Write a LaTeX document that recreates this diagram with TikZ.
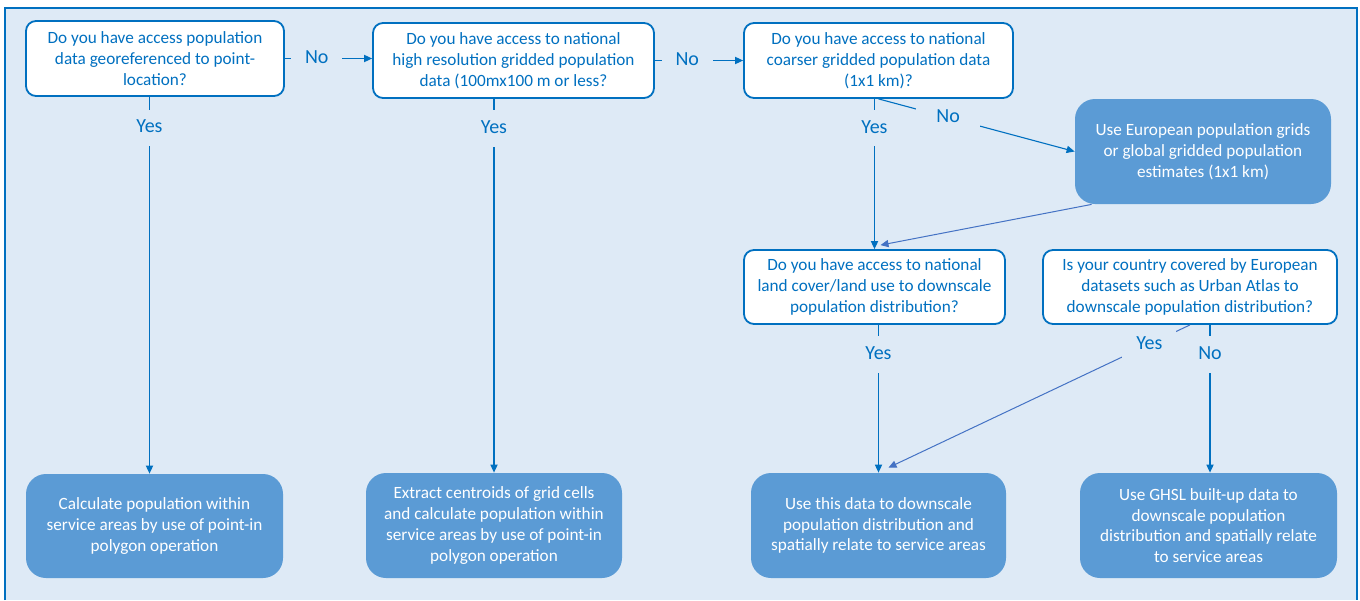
\documentclass[tikz,border=0pt]{standalone}
\usepackage{fontspec}
\setmainfont{Carlito}
\usetikzlibrary{arrows.meta,calc}
\definecolor{bgblue}{HTML}{DEEAF6}
\definecolor{dblue}{HTML}{0070C0}
\definecolor{fblue}{HTML}{5B9BD5}
\definecolor{lblue}{HTML}{4472C4}
\begin{document}
\begin{tikzpicture}[x=0.5pt,y=-0.5pt,
  qbox/.style={draw=dblue, line width=0.9pt, fill=white, rounded corners=5pt, align=center, text=dblue,
    font=\fontsize{8.6}{10.4}\selectfont, inner sep=0pt},
  abox/.style={fill=fblue, rounded corners=10pt, align=center, text=white,
    font=\fontsize{8.6}{10.4}\selectfont, inner sep=0pt},
  conn/.style={draw=dblue, line width=0.55pt, -{Triangle[length=4pt,width=3.6pt]}},
  lconn/.style={draw=lblue, line width=0.5pt, -{Triangle[length=4pt,width=3.6pt]}},
  lab/.style={fill=bgblue, text=dblue, font=\fontsize{10}{12}\selectfont, inner xsep=7pt, inner ysep=4.5pt,
    text height=7.2pt, text depth=2pt},
]
\useasboundingbox (0,0) rectangle (1360,600);
\fill[bgblue] (5,8) rectangle (1357,600);
\draw[dblue, line width=0.8pt] (5,600) -- (5,8) -- (1357,8) -- (1357,600);

% questions
\node[qbox, minimum width=129pt, minimum height=37.5pt] (q1) at (155,58.5)
  {Do you have access population\\data georeferenced to point-\\location?};
\node[qbox, minimum width=140.5pt, minimum height=37.5pt] (q2) at (513.5,60.5)
  {Do you have access to national\\high resolution gridded population\\data (100mx100 m or less?};
\node[qbox, minimum width=134.5pt, minimum height=37.5pt] (q3) at (878.5,60.5)
  {Do you have access to national\\coarser gridded population data\\(1x1 km)?};
\node[qbox, minimum width=130.5pt, minimum height=37pt] (q4) at (874.5,287)
  {Do you have access to national\\land cover/land use to downscale\\population distribution?};
\node[qbox, minimum width=147pt, minimum height=37pt] (q5) at (1190,287)
  {Is your country covered by European\\datasets such as Urban Atlas to\\downscale population distribution?};

% actions
\node[abox, minimum width=128pt, minimum height=52.5pt] (e1) at (1203,151.5)
  {Use European population grids\\or global gridded population\\estimates (1x1 km)};
\node[abox, minimum width=128.5pt, minimum height=52pt] (r1) at (154.5,526)
  {Calculate population within\\service areas by use of point-in\\polygon operation};
\node[abox, minimum width=128pt, minimum height=52.5pt] (r2) at (494,525.5)
  {Extract centroids of grid cells\\and calculate population within\\service areas by use of point-in\\polygon operation};
\node[abox, minimum width=127.5pt, minimum height=52.5pt] (r3) at (878.5,525.5)
  {Use this data to downscale\\population distribution and\\spatially relate to service areas};
\node[abox, minimum width=128.5pt, minimum height=52.5pt] (r4) at (1208.5,525.5)
  {Use GHSL built-up data to\\downscale population\\distribution and spatially relate\\to service areas};

% connectors
\draw[conn] (q1.east) -- node[lab, pos=0.365] {No} (q1.east -| q2.west);
\draw[conn] (q2.east) -- node[lab, pos=0.367] {No} (q3.west);
\draw[conn] ([xshift=-2.5pt]r1.north |- q1.south) -- node[lab, pos=0.082] {Yes} ([xshift=-2.5pt]r1.north);
\draw[conn] (r2.north |- q2.south) -- node[lab, pos=0.079] {Yes} (r2.north);
\draw[conn] (q4.north |- q3.south) -- node[lab, pos=0.194] {Yes} (q4.north);
\draw[conn] (q3.south) -- node[lab, pos=0.355, inner xsep=10pt] {No} (e1.west);
\draw[lconn] ([xshift=8.5pt]e1.south west) -- ([xshift=3pt,yshift=2pt]q4.north);
\draw[conn] (r3.north |- q4.south) -- node[lab, pos=0.201] {Yes} (r3.north);
\draw[lconn] (q5.south) -- node[lab, pos=0.135] {Yes} ([xshift=5pt,yshift=2.5pt]r3.north);
\draw[conn] ([xshift=0.75pt]r4.north |- q5.south) -- node[lab, pos=0.201] {No} ([xshift=0.75pt]r4.north);
\end{tikzpicture}
\end{document}
